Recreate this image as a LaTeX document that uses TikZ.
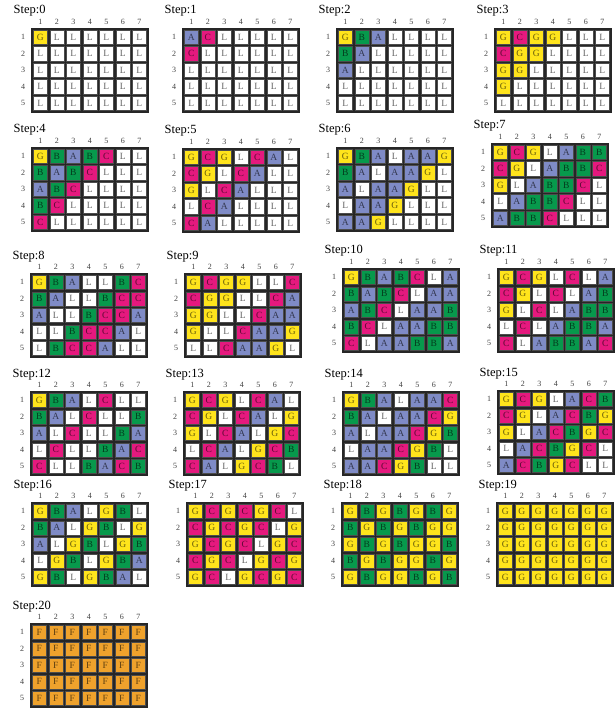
\documentclass[tikz,border=0pt]{standalone}
\usepackage{fontspec}
\setmainfont{Liberation Serif}
\usepackage{xcolor}
\usepackage{tikz}
\usetikzlibrary{positioning}

\definecolor{cellG}{HTML}{FFE41C}
\definecolor{cellC}{HTML}{E5197E}
\definecolor{cellA}{HTML}{7F8BC6}
\definecolor{cellB}{HTML}{07994C}
\definecolor{cellL}{HTML}{FFFFFF}
\definecolor{cellF}{HTML}{EFA22C}

% one board: #1 step, #2 left, #3 top (px), #4 rows
\newcommand{\stepgrid}[4]{%
  \node[steptitle] (t#1) at (#2-18.5,#3-15) {Step:#1};
  \fill[black!85] (#2-1.2,#3-1.2) rectangle (#2+116.7,#3+83.7);
  \foreach \row [count=\r] in {#4} {
    \node[rownum] (r#1-\r) at (#2-9,#3+\r*16.5-8.25) {\r};
    \foreach \ltr [count=\k] in \row
      \node[cell, fill=cell\ltr] (g#1-\r-\k) at (#2+\k*16.5-8.25,#3+\r*16.5-8.25) {\ltr};
  }
  \foreach \k in {1,...,7}
    \node[colnum] (c#1-\k) at (#2+\k*16.5-8.25,#3-7) {\k};
}

\begin{document}
\begin{tikzpicture}[x=1pt, y=-1pt,
    steptitle/.style={anchor=base west, inner sep=0, font=\fontsize{12.5}{13}\selectfont},
    rownum/.style={inner sep=0, text=black!75, font=\fontsize{8}{8}\selectfont},
    colnum/.style={inner sep=0, text=black!75, font=\fontsize{8}{8}\selectfont},
    cell/.style={minimum size=14.1pt, inner sep=0, draw=black!70, line width=0.4pt,
      text=black, text opacity=0.6, font=\fontsize{9.5}{9.5}\selectfont}]
    \useasboundingbox (0,0) rectangle (614,708);

    % Row 1
    \stepgrid{0}{32}{29}{{G,L,L,L,L,L,L},{L,L,L,L,L,L,L},{L,L,L,L,L,L,L},{L,L,L,L,L,L,L},{L,L,L,L,L,L,L}}
    \stepgrid{1}{183}{29}{{A,C,L,L,L,L,L},{C,L,L,L,L,L,L},{L,L,L,L,L,L,L},{L,L,L,L,L,L,L},{L,L,L,L,L,L,L}}
    \stepgrid{2}{337}{29}{{G,B,A,L,L,L,L},{B,A,L,L,L,L,L},{A,L,L,L,L,L,L},{L,L,L,L,L,L,L},{L,L,L,L,L,L,L}}
    \stepgrid{3}{495}{29}{{G,C,G,G,L,L,L},{C,G,G,L,L,L,L},{G,G,L,L,L,L,L},{G,L,L,L,L,L,L},{L,L,L,L,L,L,L}}

    % Row 2
    \stepgrid{4}{32}{148}{{G,B,A,B,C,L,L},{B,A,B,C,L,L,L},{A,B,C,L,L,L,L},{B,C,L,L,L,L,L},{C,L,L,L,L,L,L}}
    \stepgrid{5}{183}{149}{{G,C,G,L,C,A,L},{C,G,L,C,A,L,L},{G,L,C,A,L,L,L},{L,C,A,L,L,L,L},{C,A,L,L,L,L,L}}
    \stepgrid{6}{337}{148}{{G,B,A,L,A,A,G},{B,A,L,A,A,G,L},{A,L,A,A,G,L,L},{L,A,A,G,L,L,L},{A,A,G,L,L,L,L}}
    \stepgrid{7}{492}{144}{{G,C,G,L,A,B,B},{C,G,L,A,B,B,C},{G,L,A,B,B,C,L},{L,A,B,B,C,L,L},{A,B,B,C,L,L,L}}

    % Row 3
    \stepgrid{8}{31}{274}{{G,B,A,L,L,B,C},{B,A,L,L,B,C,C},{A,L,L,B,C,C,A},{L,L,B,C,C,A,L},{L,B,C,C,A,L,L}}
    \stepgrid{9}{185}{274}{{G,C,G,G,L,L,C},{C,G,G,L,L,C,A},{G,G,L,L,C,A,A},{G,L,L,C,A,A,G},{L,L,C,A,A,G,L}}
    \stepgrid{10}{343}{269}{{G,B,A,B,C,L,A},{B,A,B,C,L,A,A},{A,B,C,L,A,A,B},{B,C,L,A,A,B,B},{C,L,A,A,B,B,A}}
    \stepgrid{11}{498}{269}{{G,C,G,L,C,L,A},{C,G,L,C,L,A,B},{G,L,C,L,A,B,B},{L,C,L,A,B,B,A},{C,L,A,B,B,A,C}}

    % Row 4
    \stepgrid{12}{31}{392}{{G,B,A,L,C,L,L},{B,A,L,C,L,L,B},{A,L,C,L,L,B,A},{L,C,L,L,B,A,C},{C,L,L,B,A,C,B}}
    \stepgrid{13}{184}{392}{{G,C,G,L,C,A,L},{C,G,L,C,A,L,G},{G,L,C,A,L,G,C},{L,C,A,L,G,C,B},{C,A,L,G,C,B,L}}
    \stepgrid{14}{343}{392}{{G,B,A,L,A,A,C},{B,A,L,A,A,C,G},{A,L,A,A,C,G,B},{L,A,A,C,G,B,L},{A,A,C,G,B,L,L}}
    \stepgrid{15}{498}{391}{{G,C,G,L,A,C,B},{C,G,L,A,C,B,G},{G,L,A,C,B,G,C},{L,A,C,B,G,C,L},{A,C,B,G,C,L,L}}

    % Row 5
    \stepgrid{16}{32}{503}{{G,B,A,L,G,B,L},{B,A,L,G,B,L,G},{A,L,G,B,L,G,B},{L,G,B,L,G,B,A},{G,B,L,G,B,A,L}}
    \stepgrid{17}{187}{503}{{G,C,G,C,G,C,L},{C,G,C,G,C,L,G},{G,C,G,C,L,G,C},{C,G,C,L,G,C,G},{G,C,L,G,C,G,C}}
    \stepgrid{18}{342}{503}{{G,B,G,B,G,B,G},{B,G,B,G,B,G,G},{G,B,G,B,G,G,B},{B,G,B,G,G,B,G},{G,B,G,G,B,G,B}}
    \stepgrid{19}{497}{503}{{G,G,G,G,G,G,G},{G,G,G,G,G,G,G},{G,G,G,G,G,G,G},{G,G,G,G,G,G,G},{G,G,G,G,G,G,G}}

    % Row 6
    \stepgrid{20}{31}{624}{{F,F,F,F,F,F,F},{F,F,F,F,F,F,F},{F,F,F,F,F,F,F},{F,F,F,F,F,F,F},{F,F,F,F,F,F,F}}
\end{tikzpicture}
\end{document}
